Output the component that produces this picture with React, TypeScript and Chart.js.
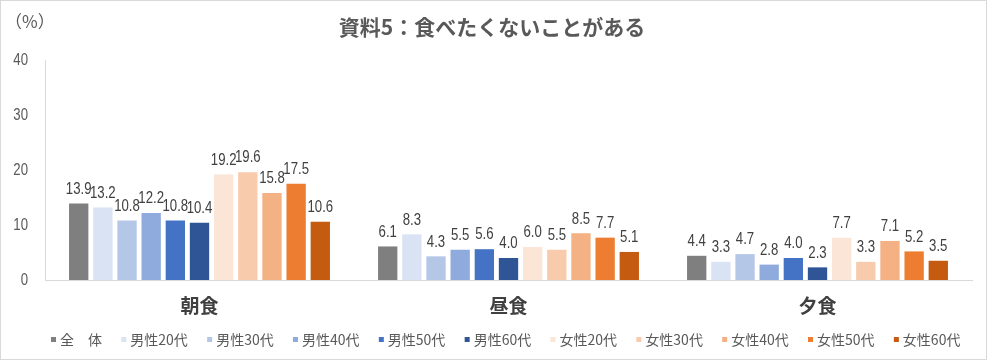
import React, { useEffect, useRef } from "react";
import { Chart, registerables } from "chart.js";

Chart.register(...registerables);

const categories = ["朝食", "昼食", "夕食"];
const seriesLabels = [
  "全　体",
  "男性20代",
  "男性30代",
  "男性40代",
  "男性50代",
  "男性60代",
  "女性20代",
  "女性30代",
  "女性40代",
  "女性50代",
  "女性60代",
];
const seriesColors = [
  "#7f7f7f",
  "#dae3f3",
  "#b4c7e7",
  "#8faadc",
  "#4472c4",
  "#2f5597",
  "#fbe5d6",
  "#f8cbad",
  "#f4b183",
  "#ed7d31",
  "#c55a11",
];
// values per series: [朝食, 昼食, 夕食]
const seriesValues = [
  [13.9, 6.1, 4.4],
  [13.2, 8.3, 3.3],
  [10.8, 4.3, 4.7],
  [12.2, 5.5, 2.8],
  [10.8, 5.6, 4.0],
  [10.4, 4.0, 2.3],
  [19.2, 6.0, 7.7],
  [19.6, 5.5, 3.3],
  [15.8, 8.5, 7.1],
  [17.5, 7.7, 5.2],
  [10.6, 5.1, 3.5],
];
const yTicks = [0, 10, 20, 30, 40];
const titleText = "資料5：食べたくないことがある";
const unitText = "（%）";

const CJK = '"Noto Sans CJK JP", "Noto Sans", sans-serif';
const NUMF = '"Liberation Sans", Arial, sans-serif';
const NARROW_X = 0.8;

function narrowText(ctx: any, text: string, x: number, y: number) {
  ctx.save();
  ctx.translate(x, y);
  ctx.scale(NARROW_X, 1);
  ctx.fillText(text, 0, 0);
  ctx.restore();
}

const overlayPlugin = {
  id: "overlay",
  afterDatasetsDraw(chart: any) {
    const ctx = chart.ctx;
    ctx.save();
    // data labels
    ctx.font = `16.5px ${NUMF}`;
    ctx.fillStyle = "#404040";
    ctx.textAlign = "center";
    ctx.textBaseline = "bottom";
    chart.data.datasets.forEach((ds: any, di: number) => {
      const meta = chart.getDatasetMeta(di);
      meta.data.forEach((bar: any, i: number) => {
        const v = ds.data[i];
        narrowText(ctx, v.toFixed(1), bar.x, bar.y - 6);
      });
    });
    // y tick labels
    const ys = chart.scales.y;
    ctx.fillStyle = "#595959";
    ctx.textAlign = "right";
    ctx.textBaseline = "middle";
    yTicks.forEach((v) => {
      narrowText(ctx, String(v), 27, ys.getPixelForValue(v));
    });
    ctx.restore();
  },
  afterDraw(chart: any) {
    const ctx = chart.ctx;
    ctx.save();
    // title
    ctx.font = `bold 21px ${CJK}`;
    ctx.fillStyle = "#595959";
    ctx.textAlign = "center";
    ctx.textBaseline = "middle";
    ctx.fillText(titleText, 491, 26);
    // unit
    ctx.font = `17px ${CJK}`;
    ctx.textAlign = "left";
    ctx.fillText(unitText, 4, 21);
    // legend
    ctx.font = `14px ${CJK}`;
    ctx.textBaseline = "middle";
    let x = 50;
    const y = 339;
    chart.data.datasets.forEach((ds: any) => {
      ctx.fillStyle = ds.backgroundColor;
      ctx.fillRect(x, y - 3, 5, 5);
      x += 5 + 4;
      ctx.fillStyle = "#595959";
      ctx.fillText(ds.label, x, y);
      x += ctx.measureText(ds.label).width + 19.3;
    });
    ctx.restore();
  },
};

export default function App() {
  const ref = useRef<HTMLCanvasElement | null>(null);

  useEffect(() => {
    document.body.style.margin = "0";
    if (!ref.current) return;
    const chart = new Chart(ref.current, {
      type: "bar",
      data: {
        labels: categories,
        datasets: seriesLabels.map((label, i) => ({
          label,
          data: seriesValues[i],
          backgroundColor: seriesColors[i],
          borderWidth: 0,
          categoryPercentage: 0.86,
          barPercentage: 0.8,
        })),
      },
      options: {
        animation: false,
        responsive: false,
        maintainAspectRatio: false,
        layout: { padding: { top: 59, right: 14, left: 0, bottom: 0 } },
        plugins: {
          legend: { display: false },
          title: { display: false },
          tooltip: { enabled: false },
        },
        scales: {
          x: {
            grid: { display: false, drawTicks: false },
            border: { display: true, color: "#d9d9d9", width: 1 },
            ticks: {
              color: "#404040",
              font: { family: CJK, size: 19, weight: "bold" },
              padding: 14,
            },
            afterFit(scale: any) {
              scale.height = 79;
            },
          },
          y: {
            min: 0,
            max: 40,
            afterBuildTicks(scale: any) {
              scale.ticks = yTicks.map((v) => ({ value: v }));
            },
            grid: { display: false, drawTicks: false },
            border: { display: true, color: "#d9d9d9", width: 1 },
            ticks: { display: false },
            afterFit(scale: any) {
              scale.width = 44;
            },
          },
        },
      },
      plugins: [overlayPlugin],
    });
    return () => chart.destroy();
  }, []);

  return (
    <div
      style={{
        width: 987,
        height: 360,
        boxSizing: "border-box",
        border: "1px solid #d9d9d9",
        background: "#fff",
        position: "relative",
      }}
    >
      <canvas ref={ref} width={985} height={358} style={{ display: "block" }} />
    </div>
  );
}
